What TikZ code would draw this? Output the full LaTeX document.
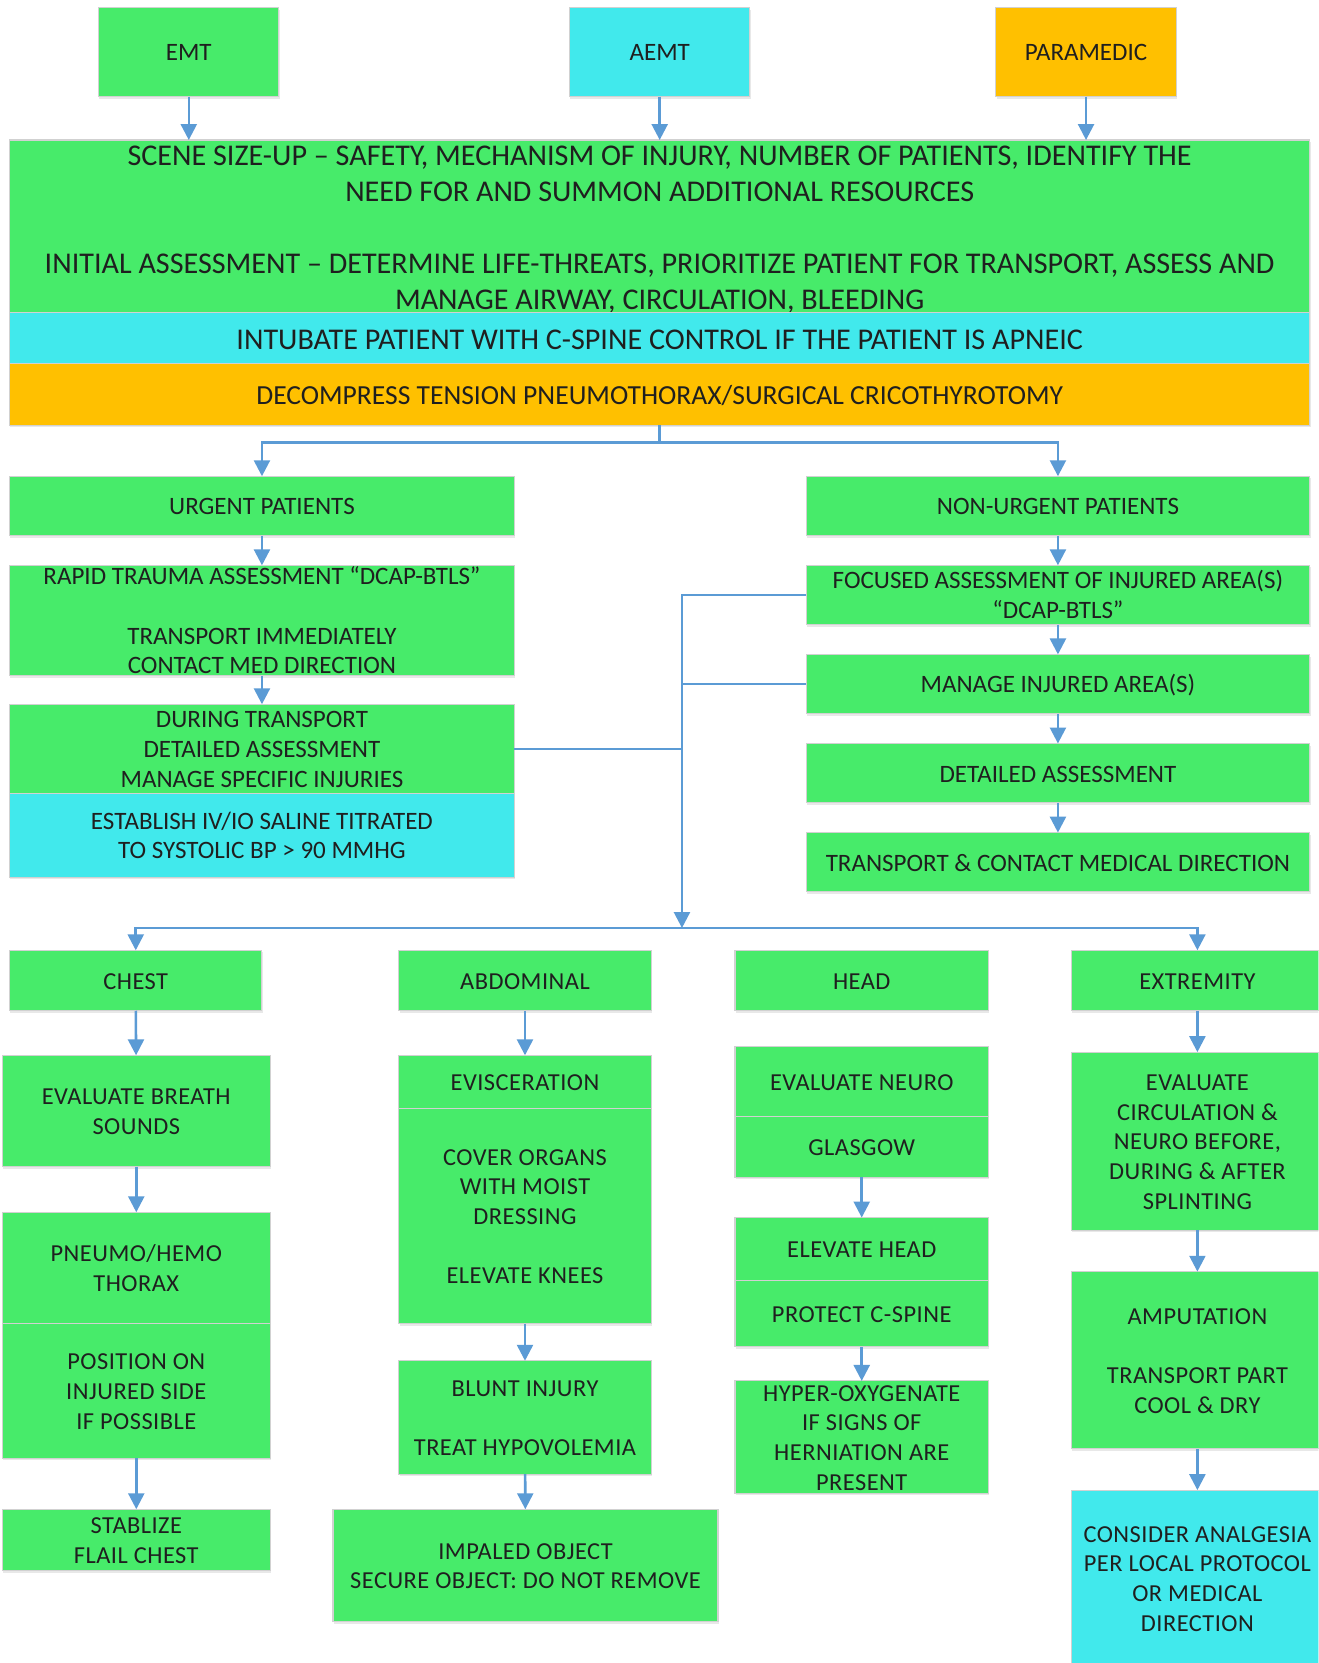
\documentclass[tikz,border=0pt]{standalone}
\usepackage{fontspec}
\setmainfont{Carlito}
\newfontfamily\trackfont[LetterSpace=2]{Carlito}
\usetikzlibrary{arrows.meta,shadows}
\definecolor{boxgreen}{HTML}{47EB6A}
\definecolor{boxcyan}{HTML}{41E9EC}
\definecolor{boxgold}{HTML}{FFC000}
\definecolor{linkblue}{HTML}{5B9BD5}
% centred block of lines that never enlarges its box
\newcommand\boxlines[1]{\smash{\raisebox{-0.37em}{\begin{tabular}{@{}c@{}}#1\end{tabular}}}}
\begin{document}
\begin{tikzpicture}[x=0.5pt,y=-0.5pt,
  sz/.style 2 args={minimum width=#1*0.5pt,minimum height=#2*0.5pt},
  box/.style={rectangle,draw=black!18,line width=0.5pt,inner sep=0pt,outer sep=0pt,
    text=black!88,drop shadow={shadow xshift=0.4pt,shadow yshift=-1pt,opacity=0.18}},
  gbox/.style={box,fill=boxgreen},
  cbox/.style={box,fill=boxcyan},
  obox/.style={box,fill=boxgold},
  bigtxt/.style={font=\fontsize{14.2}{17}\selectfont},
  decotxt/.style={font=\fontsize{13}{15.5}\selectfont},
  midtxt/.style={font=\fontsize{11.8}{14}\selectfont},
  lowtxt/.style={font=\trackfont\fontsize{11.5}{14}\selectfont},
  conn/.style={draw=linkblue,line width=1.2pt},
  arr/.style={conn,-{Triangle[width=7.5pt,length=7.5pt]}}]

\useasboundingbox (0,0) rectangle (1243,1568);
\fill[white] (0,0) rectangle (1243,1568);
\clip (0,0) rectangle (1243,1568);

% provider levels
\node[gbox,midtxt,sz={170}{84}] (emt)  at (178,49)  {\boxlines{EMT}};
\node[cbox,midtxt,sz={170}{84}] (aemt) at (622,49)  {\boxlines{AEMT}};
\node[obox,midtxt,sz={170}{84}] (para) at (1024,49) {\boxlines{PARAMEDIC}};

% scene size-up and initial assessment
\node[gbox,bigtxt,sz={1226}{163}] (main) at (622,213.5)
  {\boxlines{SCENE SIZE-UP – SAFETY, MECHANISM OF INJURY, NUMBER OF PATIENTS, IDENTIFY THE\\
   NEED FOR AND SUMMON ADDITIONAL RESOURCES\\ \\
   INITIAL ASSESSMENT – DETERMINE LIFE-THREATS, PRIORITIZE PATIENT FOR TRANSPORT, ASSESS AND\\
   MANAGE AIRWAY, CIRCULATION, BLEEDING}};
\node[cbox,bigtxt,sz={1226}{48}] (intub) at (622,319)
  {\boxlines{INTUBATE PATIENT WITH C-SPINE CONTROL IF THE PATIENT IS APNEIC}};
\node[obox,decotxt,sz={1226}{58}] (deco) at (622,372)
  {\boxlines{DECOMPRESS TENSION PNEUMOTHORAX/SURGICAL CRICOTHYROTOMY}};

% urgent branch
\node[gbox,midtxt,sz={476}{56}] (urgent) at (247,477) {\boxlines{URGENT PATIENTS}};
\node[gbox,midtxt,sz={476}{104}] (rapid) at (247,585)
  {\boxlines{RAPID TRAUMA ASSESSMENT “DCAP-BTLS”\\ \\ TRANSPORT IMMEDIATELY\\ CONTACT MED DIRECTION}};
\node[gbox,midtxt,sz={476}{84}] (during) at (247,706)
  {\boxlines{DURING TRANSPORT\\ DETAILED ASSESSMENT\\ MANAGE SPECIFIC INJURIES}};
\node[cbox,midtxt,sz={476}{79}] (ivio) at (247,787.5)
  {\boxlines{ESTABLISH IV/IO SALINE TITRATED\\ TO SYSTOLIC BP > 90 MMHG}};

% non-urgent branch
\node[gbox,midtxt,sz={475}{56}] (nonurg) at (997.5,477) {\boxlines{NON-URGENT PATIENTS}};
\node[gbox,midtxt,sz={475}{56}] (focused) at (997.5,561)
  {\boxlines{FOCUSED ASSESSMENT OF INJURED AREA(S)\\ “DCAP-BTLS”}};
\node[gbox,midtxt,sz={475}{56}] (manage) at (997.5,645) {\boxlines{MANAGE INJURED AREA(S)}};
\node[gbox,midtxt,sz={475}{56}] (detailed) at (997.5,729) {\boxlines{DETAILED ASSESSMENT}};
\node[gbox,midtxt,sz={475}{56}] (transp) at (997.5,813)
  {\boxlines{TRANSPORT \& CONTACT MEDICAL DIRECTION}};

% chest
\node[gbox,lowtxt,sz={238}{57}] (chest) at (128,924.5) {\boxlines{CHEST}};
\node[gbox,lowtxt,sz={253}{105}] (breath) at (128.5,1047.5) {\boxlines{EVALUATE BREATH\\ SOUNDS}};
\node[gbox,lowtxt,sz={253}{105}] (pneumo) at (128.5,1195.5) {\boxlines{PNEUMO/HEMO\\ THORAX}};
\node[gbox,lowtxt,sz={253}{127}] (position) at (128.5,1311.5)
  {\boxlines{POSITION ON\\ INJURED SIDE\\ IF POSSIBLE}};
\node[gbox,lowtxt,sz={253}{58}] (flail) at (128.5,1452) {\boxlines{STABLIZE\\ FLAIL CHEST}};

% abdominal
\node[gbox,lowtxt,sz={238}{57}] (abdom) at (495,924.5) {\boxlines{ABDOMINAL}};
\node[gbox,lowtxt,sz={238}{50}] (evisc) at (495,1020) {\boxlines{EVISCERATION}};
\node[gbox,lowtxt,sz={238}{203}] (cover) at (495,1146.5)
  {\boxlines{COVER ORGANS\\ WITH MOIST\\ DRESSING\\ \\ ELEVATE KNEES}};
\node[gbox,lowtxt,sz={238}{107}] (blunt) at (495,1336.5)
  {\boxlines{BLUNT INJURY\\ \\ TREAT HYPOVOLEMIA}};
\node[gbox,lowtxt,sz={363}{106}] (impaled) at (495.5,1476)
  {\boxlines{IMPALED OBJECT\\ SECURE OBJECT: DO NOT REMOVE}};

% head
\node[gbox,lowtxt,sz={239}{57}] (head) at (812.5,924.5) {\boxlines{HEAD}};
\node[gbox,lowtxt,sz={239}{66}] (neuro) at (812.5,1020) {\boxlines{EVALUATE NEURO}};
\node[gbox,lowtxt,sz={239}{57}] (glasgow) at (812.5,1081.5) {\boxlines{GLASGOW}};
\node[gbox,lowtxt,sz={239}{59}] (elevate) at (812.5,1177.5) {\boxlines{ELEVATE HEAD}};
\node[gbox,lowtxt,sz={239}{63}] (cspine) at (812.5,1238.5) {\boxlines{PROTECT C-SPINE}};
\node[gbox,lowtxt,sz={239}{106}] (hyper) at (812.5,1355)
  {\boxlines{HYPER-OXYGENATE\\ IF SIGNS OF\\ HERNIATION ARE\\ PRESENT}};

% extremity
\node[gbox,lowtxt,sz={238}{57}] (extrem) at (1129,924.5) {\boxlines{EXTREMITY}};
\node[gbox,lowtxt,sz={238}{168}] (circ) at (1129,1076)
  {\boxlines{EVALUATE\\ CIRCULATION \&\\ NEURO BEFORE,\\ DURING \& AFTER\\ SPLINTING}};
\node[gbox,lowtxt,sz={238}{167}] (amput) at (1129,1282.5)
  {\boxlines{AMPUTATION\\ \\ TRANSPORT PART\\ COOL \& DRY}};
\node[cbox,lowtxt,sz={238}{166}] (analg) at (1129,1488)
  {\boxlines{CONSIDER ANALGESIA\\ PER LOCAL PROTOCOL\\ OR MEDICAL\\ DIRECTION}};

% connectors
\draw[arr] (emt.south) -- (emt.south |- main.north);
\draw[arr] (aemt.south) -- (aemt.south |- main.north);
\draw[arr] (para.south) -- (para.south |- main.north);

\coordinate (split) at (622,417);
\draw[conn] (deco.south) -- (split);
\draw[arr] (split) -| (urgent.north);
\draw[arr] (split) -| (nonurg.north);

\draw[arr] (urgent) -- (rapid);
\draw[arr] (rapid) -- (during);

\draw[arr] (nonurg) -- (focused);
\draw[arr] (focused) -- (manage);
\draw[arr] (manage) -- (detailed);
\draw[arr] (detailed) -- (transp);

\coordinate (hub) at (643,875);
\draw[arr] (focused.west) -| (hub);
\draw[conn] (manage.west) -- (manage.west -| hub);
\draw[conn] (during.east) -- (during.east -| hub);
\draw[arr] (hub) -| (chest.north);
\draw[arr] (hub) -| (extrem.north);

\draw[arr] (chest) -- (breath);
\draw[arr] (breath) -- (pneumo);
\draw[arr] (position) -- (flail);

\draw[arr] (abdom) -- (evisc);
\draw[arr] (cover) -- (blunt);
\draw[arr] (blunt) -- (impaled);

\draw[arr] (glasgow) -- (elevate);
\draw[arr] (cspine) -- (hyper);

\draw[arr] (extrem) -- (circ);
\draw[arr] (circ) -- (amput);
\draw[arr] (amput) -- (analg);
\end{tikzpicture}
\end{document}
